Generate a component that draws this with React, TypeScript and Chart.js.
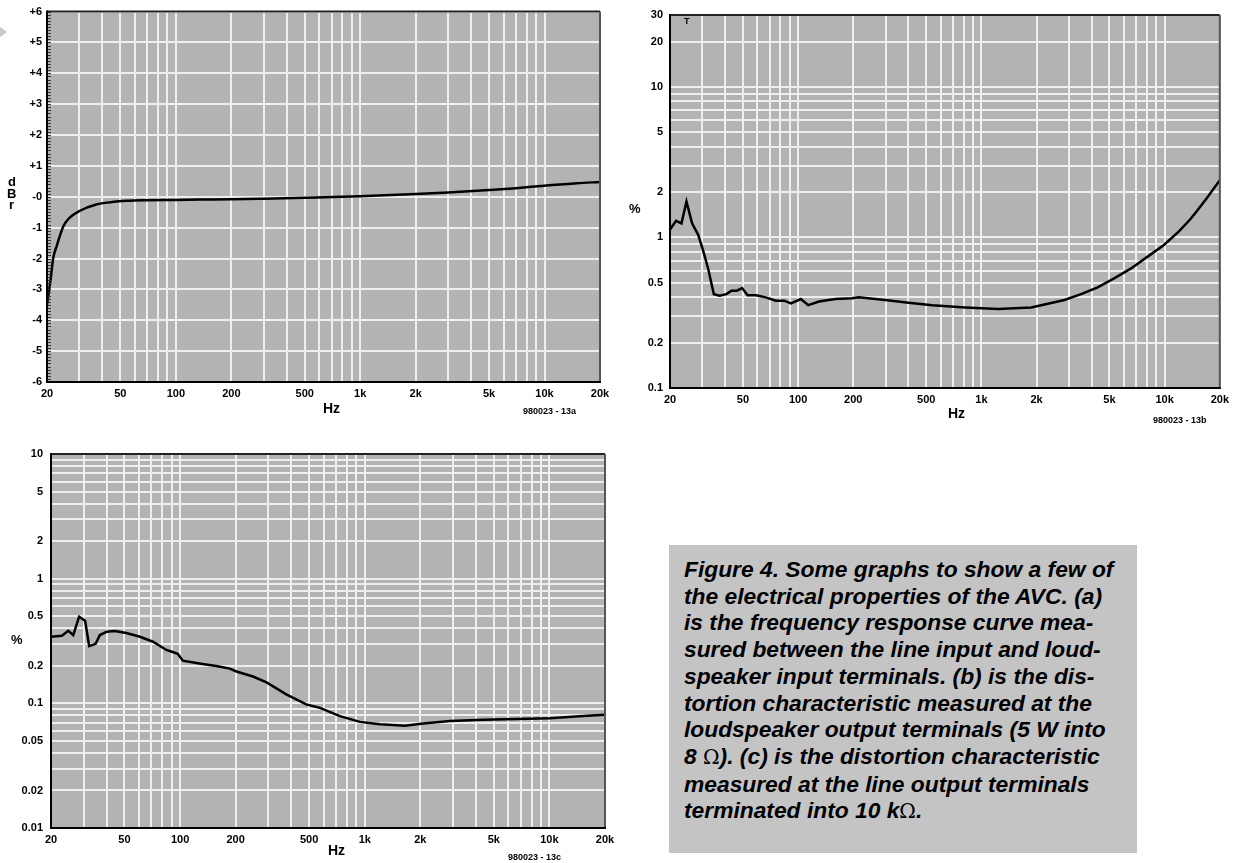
import React, { useEffect, useRef } from 'react';
import { Chart, registerables } from 'chart.js';

Chart.register(...registerables);

// ---------- data ----------
const FREQ_A = [20, 21, 21.6, 22.7, 24.5, 26.3, 30, 37, 45, 54, 70, 100, 135, 200, 300, 500, 1000, 2000, 3000, 5000, 7000, 10000, 15000, 20000];
const DBR_A = [-3.5, -2.6, -2.0, -1.55, -0.96, -0.7, -0.46, -0.25, -0.17, -0.13, -0.11, -0.1, -0.09, -0.08, -0.06, -0.03, 0.02, 0.09, 0.14, 0.22, 0.28, 0.36, 0.44, 0.48];

const FREQ_B = [20, 21.6, 23.1, 24.6, 26.4, 28.5, 30.3, 32.3, 34.7, 37.3, 40.6, 43.3, 46.3, 49.5, 53, 59, 66.6, 75.5, 84, 91.5, 103.5, 113.6, 130, 160, 197, 214, 298, 400, 540, 815, 1235, 1870, 2840, 3500, 4310, 5300, 6530, 8000, 9910, 12000, 13800, 15000, 17000, 20000];
const THD_B = [1.13, 1.29, 1.24, 1.73, 1.24, 1.04, 0.82, 0.62, 0.42, 0.41, 0.42, 0.443, 0.443, 0.461, 0.413, 0.413, 0.4, 0.38, 0.38, 0.365, 0.39, 0.355, 0.375, 0.39, 0.394, 0.4, 0.384, 0.368, 0.355, 0.343, 0.335, 0.343, 0.384, 0.42, 0.466, 0.535, 0.62, 0.74, 0.89, 1.1, 1.32, 1.5, 1.83, 2.4];

const FREQ_C = [20, 22.9, 24.8, 26.4, 28.4, 30.6, 32.2, 34.9, 36.8, 40, 44.3, 51.2, 60.6, 71.4, 84.3, 90.3, 97.1, 103.5, 127, 157, 186, 202, 248, 294, 376, 482, 572, 734, 942, 1208, 1650, 2075, 2890, 4380, 6640, 10070, 15240, 20000];
const THD_C = [0.342, 0.348, 0.382, 0.353, 0.495, 0.46, 0.288, 0.3, 0.353, 0.375, 0.38, 0.367, 0.342, 0.312, 0.268, 0.259, 0.25, 0.22, 0.209, 0.199, 0.19, 0.18, 0.164, 0.147, 0.118, 0.098, 0.092, 0.079, 0.071, 0.068, 0.066, 0.069, 0.072, 0.074, 0.075, 0.076, 0.079, 0.081];

// ---------- ticks / grid ----------
const X_GRID = [20, 30, 40, 50, 60, 70, 80, 90, 100, 200, 300, 400, 500, 600, 700, 800, 900, 1000, 2000, 3000, 4000, 5000, 6000, 7000, 8000, 9000, 10000, 20000];
const X_LABEL_VALUES = [20, 50, 100, 200, 500, 1000, 2000, 5000, 10000, 20000];
const X_LABELS = ['20', '50', '100', '200', '500', '1k', '2k', '5k', '10k', '20k'];

const Y_GRID_A = [-6, -5, -4, -3, -2, -1, 0, 1, 2, 3, 4, 5, 6];
const Y_LABELS_A = ['-6', '-5', '-4', '-3', '-2', '-1', '-0', '+1', '+2', '+3', '+4', '+5', '+6'];

const Y_GRID_B = [0.1, 0.2, 0.3, 0.4, 0.5, 0.6, 0.7, 0.8, 0.9, 1, 2, 3, 4, 5, 6, 7, 8, 9, 10, 20, 30];
const Y_LABEL_VALUES_B = [0.1, 0.2, 0.5, 1, 2, 5, 10, 20, 30];
const Y_LABELS_B = ['0.1', '0.2', '0.5', '1', '2', '5', '10', '20', '30'];

const Y_GRID_C = [0.01, 0.02, 0.03, 0.04, 0.05, 0.06, 0.07, 0.08, 0.09, 0.1, 0.2, 0.3, 0.4, 0.5, 0.6, 0.7, 0.8, 0.9, 1, 2, 3, 4, 5, 6, 7, 8, 9, 10];
const Y_LABEL_VALUES_C = [0.01, 0.02, 0.05, 0.1, 0.2, 0.5, 1, 2, 5, 10];
const Y_LABELS_C = ['0.01', '0.02', '0.05', '0.1', '0.2', '0.5', '1', '2', '5', '10'];

const CAPTION_LINES = [
  'Figure 4. Some graphs to show a few of',
  'the electrical properties of the AVC. (a)',
  'is the frequency response curve mea-',
  'sured between the line input and loud-',
  'speaker input terminals. (b) is the dis-',
  'tortion characteristic measured at the',
  'loudspeaker output terminals (5 W into',
  '8 Ω). (c) is the distortion characteristic',
  'measured at the line output terminals',
  'terminated into 10 kΩ.',
];

// ---------- styling ----------
const FONT = '"Liberation Sans", Arial, Helvetica, sans-serif';
const PLOT_BG = '#b3b3b3';
const GRID_COLOR = '#eeeeee';

const labelFor = (v: number, vals: number[], labs: string[]) => {
  const i = vals.findIndex((t) => Math.abs(t - v) <= Math.abs(t) * 1e-6 + 1e-9);
  return i >= 0 ? labs[i] : '';
};

const framePlugin = {
  id: 'frame',
  beforeDraw(chart: any) {
    const { ctx, chartArea } = chart;
    const { left, top, right, bottom } = chartArea;
    ctx.save();
    ctx.fillStyle = PLOT_BG;
    ctx.fillRect(left, top, right - left, bottom - top);
    ctx.restore();
  },
  afterDatasetsDraw(chart: any, _args: any, opts: any) {
    const { ctx, chartArea } = chart;
    const { left, top, right, bottom } = chartArea;
    ctx.save();
    if (opts && opts.minorTicks) {
      const ys = chart.scales.y;
      ctx.strokeStyle = '#333';
      ctx.lineWidth = 1;
      for (let k = -60; k <= 60; k++) {
        const py = Math.round(ys.getPixelForValue(k / 10)) + 0.5;
        ctx.beginPath();
        ctx.moveTo(left, py);
        ctx.lineTo(left + 4, py);
        ctx.stroke();
      }
    }
    ctx.lineWidth = 2;
    ctx.strokeStyle = '#222';
    ctx.beginPath();
    ctx.moveTo(left, top);
    ctx.lineTo(right, top);
    ctx.stroke();
    ctx.strokeStyle = '#555';
    ctx.beginPath();
    ctx.moveTo(right, top);
    ctx.lineTo(right, bottom);
    ctx.stroke();
    ctx.strokeStyle = '#000';
    ctx.beginPath();
    ctx.moveTo(left, top - 1);
    ctx.lineTo(left, bottom);
    ctx.lineTo(right + 1, bottom);
    ctx.stroke();
    ctx.restore();
  },
};

type Cfg = {
  freqs: number[];
  values: number[];
  yType: 'linear' | 'logarithmic';
  yMin: number;
  yMax: number;
  yGrid: number[];
  yLabel: (v: number, i: number) => string;
  yWidth: number;
  xHeight: number;
  padTop: number;
  padRight: number;
  yPad: number;
  minorTicks?: boolean;
  smooth?: boolean;
};

function makeConfig(c: Cfg): any {
  const tickFont = { family: FONT, size: 11, weight: 'bold' as const };
  return {
    type: 'line',
    data: {
      datasets: [
        {
          data: c.freqs.map((f, i) => ({ x: f, y: c.values[i] })),
          borderColor: '#000',
          borderWidth: 2.5,
          pointRadius: 0,
          fill: false,
          tension: c.smooth ? 0.4 : 0,
          cubicInterpolationMode: c.smooth ? 'monotone' : 'default',
        },
      ],
    },
    options: {
      responsive: false,
      animation: false,
      devicePixelRatio: 1,
      layout: { padding: { top: c.padTop, right: c.padRight, left: 0, bottom: 0 } },
      plugins: {
        legend: { display: false },
        tooltip: { enabled: false },
        frame: { minorTicks: !!c.minorTicks },
      },
      scales: {
        x: {
          type: 'logarithmic',
          min: 20,
          max: 20000,
          afterBuildTicks: (s: any) => {
            s.ticks = X_GRID.map((v) => ({ value: v }));
          },
          afterFit: (s: any) => {
            s.height = c.xHeight;
          },
          grid: { color: GRID_COLOR, lineWidth: 2, drawTicks: false },
          border: { display: false },
          ticks: {
            autoSkip: false,
            maxRotation: 0,
            minRotation: 0,
            padding: 5,
            color: '#000',
            font: tickFont,
            callback: (v: number) => labelFor(v, X_LABEL_VALUES, X_LABELS),
          },
        },
        y: {
          type: c.yType,
          min: c.yMin,
          max: c.yMax,
          afterBuildTicks: (s: any) => {
            s.ticks = c.yGrid.map((v) => ({ value: v }));
          },
          afterFit: (s: any) => {
            s.width = c.yWidth;
          },
          grid: { color: GRID_COLOR, lineWidth: 2, drawTicks: false },
          border: { display: false },
          ticks: {
            autoSkip: false,
            padding: c.yPad,
            color: '#000',
            font: tickFont,
            callback: (v: number, i: number) => c.yLabel(v, i),
          },
        },
      },
    },
    plugins: [framePlugin],
  };
}

function PlotCanvas(props: { cfg: Cfg; left: number; top: number; width: number; height: number }) {
  const ref = useRef<HTMLCanvasElement>(null);
  useEffect(() => {
    if (!ref.current) return;
    const chart = new Chart(ref.current, makeConfig(props.cfg));
    return () => chart.destroy();
  }, []);
  return (
    <canvas
      ref={ref}
      width={props.width}
      height={props.height}
      style={{ position: 'absolute', left: props.left, top: props.top, width: props.width, height: props.height }}
    />
  );
}

const txt = (left: number, top: number, size: number, content: string, extra: any = {}) => (
  <div
    style={{
      position: 'absolute',
      left,
      top,
      fontFamily: FONT,
      fontWeight: 'bold',
      fontSize: size,
      lineHeight: 1,
      color: '#000',
      whiteSpace: 'nowrap',
      ...extra,
    }}
  >
    {content}
  </div>
);

export default function App() {
  const cfgA: Cfg = {
    freqs: FREQ_A,
    values: DBR_A,
    yType: 'linear',
    yMin: -6,
    yMax: 6,
    yGrid: Y_GRID_A,
    yLabel: (v) => labelFor(v, Y_GRID_A, Y_LABELS_A),
    yWidth: 47,
    xHeight: 48,
    padTop: 8,
    padRight: 20,
    yPad: 5,
    minorTicks: true,
    smooth: true,
  };
  const cfgB: Cfg = {
    freqs: FREQ_B,
    values: THD_B,
    yType: 'logarithmic',
    yMin: 0.1,
    yMax: 30,
    yGrid: Y_GRID_B,
    yLabel: (v) => labelFor(v, Y_LABEL_VALUES_B, Y_LABELS_B),
    yWidth: 50,
    xHeight: 42,
    padTop: 15,
    padRight: 11,
    yPad: 7,
  };
  const cfgC: Cfg = {
    freqs: FREQ_C,
    values: THD_C,
    yType: 'logarithmic',
    yMin: 0.01,
    yMax: 10,
    yGrid: Y_GRID_C,
    yLabel: (v) => labelFor(v, Y_LABEL_VALUES_C, Y_LABELS_C),
    yWidth: 51,
    xHeight: 35,
    padTop: 24,
    padRight: 15,
    yPad: 8,
  };

  return (
    <div style={{ position: 'absolute', left: 0, top: 0, width: 1234, height: 863, background: '#fff', overflow: 'hidden' }}>
      {/* small marker arrow */}
      <div
        style={{
          position: 'absolute',
          left: 0,
          top: 27,
          width: 0,
          height: 0,
          borderTop: '5px solid transparent',
          borderBottom: '5px solid transparent',
          borderLeft: '7px solid #c8c8c8',
        }}
      />

      <PlotCanvas cfg={cfgA} left={0} top={0} width={620} height={430} />
      <PlotCanvas cfg={cfgB} left={620} top={0} width={614} height={430} />
      <PlotCanvas cfg={cfgC} left={0} top={430} width={620} height={433} />

      {/* chart (a) annotations */}
      {txt(8, 175, 13, 'd')}
      {txt(7, 187, 13, 'B')}
      {txt(9, 198, 13, 'r')}
      {txt(323, 401, 14, 'Hz')}
      {txt(523, 407, 9, '980023 - 13a')}

      {/* chart (b) annotations */}
      {txt(684, 17, 9, 'T')}
      {txt(629, 202, 13, '%')}
      {txt(948, 406, 14, 'Hz')}
      {txt(1153, 416, 9, '980023 - 13b')}

      {/* chart (c) annotations */}
      {txt(11, 633, 13, '%')}
      {txt(328, 843, 14, 'Hz')}
      {txt(508, 853, 9, '980023 - 13c')}

      {/* caption */}
      <div
        style={{
          position: 'absolute',
          left: 669,
          top: 545,
          width: 468,
          height: 308,
          background: '#c4c4c4',
          boxSizing: 'border-box',
          paddingLeft: 15,
          paddingTop: 11,
          fontFamily: FONT,
          fontWeight: 'bold',
          fontStyle: 'italic',
          fontSize: 22.8,
          lineHeight: '26.7px',
          color: '#000',
          whiteSpace: 'nowrap',
        }}
      >
        {CAPTION_LINES.map((line, i) => {
          const parts = line.split('Ω');
          return (
            <div key={i}>
              {parts.map((p, j) => (
                <React.Fragment key={j}>
                  {p}
                  {j < parts.length - 1 && (
                    <span style={{ fontFamily: '"DejaVu Serif", serif', fontStyle: 'normal', fontWeight: 'normal', fontSize: 20 }}>Ω</span>
                  )}
                </React.Fragment>
              ))}
            </div>
          );
        })}
      </div>
    </div>
  );
}
